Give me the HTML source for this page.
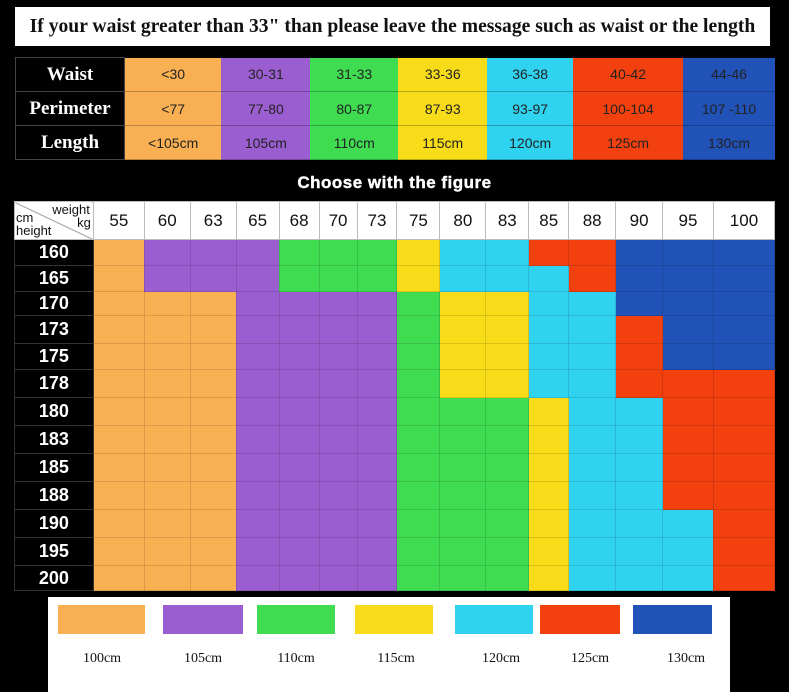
<!DOCTYPE html>
<html><head><meta charset="utf-8"><style>
body{margin:0;width:789px;height:692px;background:#000;position:relative;overflow:hidden;font-family:"Liberation Sans",sans-serif}
.a{position:absolute}
.title{left:15px;top:7px;width:755px;height:39px;background:#fff;font-family:"Liberation Serif",serif;font-weight:bold;font-size:19.6px;line-height:39px;text-align:center;color:#111}
table{border-collapse:collapse;position:absolute}
#t1{left:15px;top:57px;width:760px;height:103px}
#t1 td{text-align:center;font-size:14px;color:#222;border-bottom:1px solid rgba(0,0,0,.25);padding:0}
#t1 td.h{background:#000;color:#fff;font-family:"Liberation Serif",serif;font-weight:bold;font-size:19px;border:1px solid #444}
.O{background:#f9b053}.P{background:#9b5ed0}.G{background:#3fdc52}.Y{background:#f8dc1a}.C{background:#2fd3ef}.R{background:#f2400f}.B{background:#2152b8}
#t2{left:14px;top:201px;width:761px;height:389px}
#t2 td{border:1px solid rgba(0,0,0,.12);padding:0}
#t2 tr.hd td{background:#fff;text-align:center;font-size:17px;color:#111;border:1px solid #bbb}
#t2 td.rl{background:#000;color:#fff;font-size:18px;font-weight:bold;text-align:center;border:1px solid #333}
.leg{left:48px;top:597px;width:682px;height:95px;background:#fff}
.sw{position:absolute;top:8px;height:29px}
.lb{position:absolute;top:54px;font-family:"Liberation Serif",serif;font-size:14px;color:#111;width:90px;text-align:center}
</style></head><body>
<div class="a title">If your waist greater than 33" than please leave the message such as waist or the length</div>
<table id="t1">
<colgroup><col style="width:109px"><col style="width:97px"><col style="width:89px"><col style="width:88px"><col style="width:89px"><col style="width:86px"><col style="width:110px"><col style="width:92px"></colgroup>
<tr><td class="h">Waist</td><td class="O">&lt;30</td><td class="P">30-31</td><td class="G">31-33</td><td class="Y">33-36</td><td class="C">36-38</td><td class="R">40-42</td><td class="B">44-46</td></tr>
<tr><td class="h">Perimeter</td><td class="O">&lt;77</td><td class="P">77-80</td><td class="G">80-87</td><td class="Y">87-93</td><td class="C">93-97</td><td class="R">100-104</td><td class="B">107 -110</td></tr>
<tr><td class="h">Length</td><td class="O">&lt;105cm</td><td class="P">105cm</td><td class="G">110cm</td><td class="Y">115cm</td><td class="C">120cm</td><td class="R">125cm</td><td class="B">130cm</td></tr>
</table>
<div class="a" style="left:0;width:789px;top:173px;text-align:center;color:#fff;font-weight:bold;font-size:17px;letter-spacing:0.5px;-webkit-text-stroke:0.4px #fff">Choose with the figure</div>
<table id="t2">
<colgroup><col style="width:79px"><col style="width:51px"><col style="width:46px"><col style="width:46px"><col style="width:43px"><col style="width:40px"><col style="width:38px"><col style="width:40px"><col style="width:43px"><col style="width:46px"><col style="width:43px"><col style="width:40px"><col style="width:47px"><col style="width:47px"><col style="width:51px"><col style="width:61px"></colgroup>
<tr class="hd" style="height:38px"><td style="position:relative;font-size:13px;line-height:12px;text-align:left;background:#fff linear-gradient(to bottom left,transparent 49%,#999 50%,transparent 52%)"><span style="position:absolute;right:3px;top:2px">weight</span><span style="position:absolute;right:2px;top:15px">kg</span><span style="position:absolute;left:1px;top:10px">cm</span><span style="position:absolute;left:1px;top:23px">height</span></td><td>55</td><td>60</td><td>63</td><td>65</td><td>68</td><td>70</td><td>73</td><td>75</td><td>80</td><td>83</td><td>85</td><td>88</td><td>90</td><td>95</td><td>100</td></tr>
<tr style="height:26px"><td class="rl">160</td><td class="O"></td><td class="P"></td><td class="P"></td><td class="P"></td><td class="G"></td><td class="G"></td><td class="G"></td><td class="Y"></td><td class="C"></td><td class="C"></td><td class="R"></td><td class="R"></td><td class="B"></td><td class="B"></td><td class="B"></td></tr>
<tr style="height:26px"><td class="rl">165</td><td class="O"></td><td class="P"></td><td class="P"></td><td class="P"></td><td class="G"></td><td class="G"></td><td class="G"></td><td class="Y"></td><td class="C"></td><td class="C"></td><td class="C"></td><td class="R"></td><td class="B"></td><td class="B"></td><td class="B"></td></tr>
<tr style="height:24px"><td class="rl">170</td><td class="O"></td><td class="O"></td><td class="O"></td><td class="P"></td><td class="P"></td><td class="P"></td><td class="P"></td><td class="G"></td><td class="Y"></td><td class="Y"></td><td class="C"></td><td class="C"></td><td class="B"></td><td class="B"></td><td class="B"></td></tr>
<tr style="height:28px"><td class="rl">173</td><td class="O"></td><td class="O"></td><td class="O"></td><td class="P"></td><td class="P"></td><td class="P"></td><td class="P"></td><td class="G"></td><td class="Y"></td><td class="Y"></td><td class="C"></td><td class="C"></td><td class="R"></td><td class="B"></td><td class="B"></td></tr>
<tr style="height:26px"><td class="rl">175</td><td class="O"></td><td class="O"></td><td class="O"></td><td class="P"></td><td class="P"></td><td class="P"></td><td class="P"></td><td class="G"></td><td class="Y"></td><td class="Y"></td><td class="C"></td><td class="C"></td><td class="R"></td><td class="B"></td><td class="B"></td></tr>
<tr style="height:28px"><td class="rl">178</td><td class="O"></td><td class="O"></td><td class="O"></td><td class="P"></td><td class="P"></td><td class="P"></td><td class="P"></td><td class="G"></td><td class="Y"></td><td class="Y"></td><td class="C"></td><td class="C"></td><td class="R"></td><td class="R"></td><td class="R"></td></tr>
<tr style="height:28px"><td class="rl">180</td><td class="O"></td><td class="O"></td><td class="O"></td><td class="P"></td><td class="P"></td><td class="P"></td><td class="P"></td><td class="G"></td><td class="G"></td><td class="G"></td><td class="Y"></td><td class="C"></td><td class="C"></td><td class="R"></td><td class="R"></td></tr>
<tr style="height:28px"><td class="rl">183</td><td class="O"></td><td class="O"></td><td class="O"></td><td class="P"></td><td class="P"></td><td class="P"></td><td class="P"></td><td class="G"></td><td class="G"></td><td class="G"></td><td class="Y"></td><td class="C"></td><td class="C"></td><td class="R"></td><td class="R"></td></tr>
<tr style="height:28px"><td class="rl">185</td><td class="O"></td><td class="O"></td><td class="O"></td><td class="P"></td><td class="P"></td><td class="P"></td><td class="P"></td><td class="G"></td><td class="G"></td><td class="G"></td><td class="Y"></td><td class="C"></td><td class="C"></td><td class="R"></td><td class="R"></td></tr>
<tr style="height:28px"><td class="rl">188</td><td class="O"></td><td class="O"></td><td class="O"></td><td class="P"></td><td class="P"></td><td class="P"></td><td class="P"></td><td class="G"></td><td class="G"></td><td class="G"></td><td class="Y"></td><td class="C"></td><td class="C"></td><td class="R"></td><td class="R"></td></tr>
<tr style="height:28px"><td class="rl">190</td><td class="O"></td><td class="O"></td><td class="O"></td><td class="P"></td><td class="P"></td><td class="P"></td><td class="P"></td><td class="G"></td><td class="G"></td><td class="G"></td><td class="Y"></td><td class="C"></td><td class="C"></td><td class="C"></td><td class="R"></td></tr>
<tr style="height:28px"><td class="rl">195</td><td class="O"></td><td class="O"></td><td class="O"></td><td class="P"></td><td class="P"></td><td class="P"></td><td class="P"></td><td class="G"></td><td class="G"></td><td class="G"></td><td class="Y"></td><td class="C"></td><td class="C"></td><td class="C"></td><td class="R"></td></tr>
<tr style="height:25px"><td class="rl">200</td><td class="O"></td><td class="O"></td><td class="O"></td><td class="P"></td><td class="P"></td><td class="P"></td><td class="P"></td><td class="G"></td><td class="G"></td><td class="G"></td><td class="Y"></td><td class="C"></td><td class="C"></td><td class="C"></td><td class="R"></td></tr>
</table>
<div class="a leg">
<div class="sw O" style="left:10px;width:87px"></div><div class="lb" style="left:9px">100cm</div>
<div class="sw P" style="left:115px;width:80px"></div><div class="lb" style="left:110px">105cm</div>
<div class="sw G" style="left:209px;width:78px"></div><div class="lb" style="left:203px">110cm</div>
<div class="sw Y" style="left:307px;width:78px"></div><div class="lb" style="left:303px">115cm</div>
<div class="sw C" style="left:407px;width:78px"></div><div class="lb" style="left:408px">120cm</div>
<div class="sw R" style="left:492px;width:80px"></div><div class="lb" style="left:497px">125cm</div>
<div class="sw B" style="left:585px;width:79px"></div><div class="lb" style="left:593px">130cm</div>
</div>
</body></html>
